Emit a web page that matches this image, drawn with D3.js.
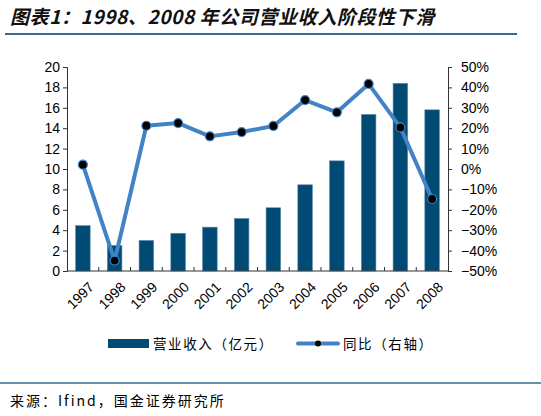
<!DOCTYPE html>
<html>
<head>
<meta charset="utf-8">
<script src="https://cdn.jsdelivr.net/npm/d3@7"></script>
<style>
  body { margin: 0; background: #fff; }
  svg { display: block; font-family: "Liberation Sans", Arial, sans-serif; }
  .cjk { font-family: "Noto Sans CJK SC", sans-serif; }
</style>
</head>
<body>
<div id="chart"></div>
<script>
// Data
const years = ["1997", "1998", "1999", "2000", "2001", "2002", "2003", "2004", "2005", "2006", "2007", "2008"];
const revenue = [4.45, 2.5, 3.0, 3.7, 4.3, 5.15, 6.2, 8.45, 10.8, 15.35, 18.4, 15.8];   // 亿元
const growth = [0.021, -0.449, 0.212, 0.225, 0.16, 0.181, 0.211, 0.338, 0.278, 0.417, 0.204, -0.147];
const leftTicks = [0, 2, 4, 6, 8, 10, 12, 14, 16, 18, 20];
const rightTicks = [-0.5, -0.4, -0.3, -0.2, -0.1, 0, 0.1, 0.2, 0.3, 0.4, 0.5];

const width = 541;
const height = 416;
const marginLeft = 67;
const marginRight = 93;
const marginTop = 67;
const plotBottom = 271;

const barColor = "#004a73";
const lineColor = "#4283c6";

const svg = d3.select("#chart").append("svg")
    .attr("width", width)
    .attr("height", height);

// Title and rules
svg.append("text")
    .attr("class", "cjk")
    .attr("x", 10)
    .attr("y", 24)
    .attr("font-size", 19)
    .attr("font-weight", "bold")
    .attr("font-style", "italic")
    .attr("letter-spacing", 0.6)
    .attr("fill", "#111")
    .text("图表1：1998、2008 年公司营业收入阶段性下滑");

svg.append("line")
    .attr("x1", 5).attr("x2", 517)
    .attr("y1", 34).attr("y2", 34)
    .attr("stroke", "#336e8f").attr("stroke-width", 2);

svg.append("line")
    .attr("x1", 0).attr("x2", 541)
    .attr("y1", 383).attr("y2", 383)
    .attr("stroke", "#336e8f").attr("stroke-width", 1.5);

svg.append("text")
    .attr("class", "cjk")
    .attr("x", 10)
    .attr("y", 406)
    .attr("font-size", 14)
    .attr("letter-spacing", 2)
    .attr("fill", "#000")
    .text("来源：Ifind，国金证券研究所");

// Scales
const x = d3.scaleBand()
    .domain(years)
    .range([marginLeft, width - marginRight])
    .paddingInner(0.54)
    .paddingOuter(0.27);

const xEdge = d3.scaleBand()
    .domain(years)
    .range([marginLeft, width - marginRight]);

const yLeft = d3.scaleLinear()
    .domain([0, 20])
    .range([plotBottom, marginTop]);

const yRight = d3.scaleLinear()
    .domain([-0.5, 0.5])
    .range([plotBottom, marginTop]);

// Bars
svg.append("g")
    .selectAll("rect")
    .data(years)
    .join("rect")
        .attr("x", d => x(d))
        .attr("y", (d, i) => yLeft(revenue[i]))
        .attr("width", x.bandwidth())
        .attr("height", (d, i) => plotBottom - yLeft(revenue[i]))
        .attr("fill", barColor)
        .attr("stroke", "#5d8fb3")
        .attr("stroke-width", 0.6);

// Left axis
svg.append("g")
    .attr("transform", `translate(${marginLeft},0)`)
    .call(d3.axisLeft(yLeft).tickValues(leftTicks).tickSize(4).tickPadding(3))
    .call(g => g.selectAll("text").attr("font-size", 14).attr("fill", "#000"))
    .call(g => g.selectAll("line, path").attr("stroke", "#333"));

// Right axis
svg.append("g")
    .attr("transform", `translate(${width - marginRight},0)`)
    .call(d3.axisRight(yRight).tickValues(rightTicks).tickFormat(d3.format(".0%")).tickSize(4).tickPadding(9))
    .call(g => g.selectAll("text").attr("font-size", 14).attr("fill", "#000"))
    .call(g => g.selectAll("line, path").attr("stroke", "#333"));

// Bottom axis: ticks between categories, pointing inward
const boundaries = years.slice(1).map(d => xEdge(d));
const xAxis = svg.append("g");
xAxis.append("line")
    .attr("x1", marginLeft).attr("x2", width - marginRight)
    .attr("y1", plotBottom).attr("y2", plotBottom)
    .attr("stroke", "#333");
xAxis.selectAll(".btick")
    .data(boundaries)
    .join("line")
        .attr("x1", d => d).attr("x2", d => d)
        .attr("y1", plotBottom).attr("y2", plotBottom - 4)
        .attr("stroke", "#333");
xAxis.selectAll(".ylab")
    .data(years)
    .join("text")
        .attr("transform", d => `translate(${xEdge(d) + xEdge.bandwidth() / 2 + 5},${plotBottom + 10}) rotate(-45)`)
        .attr("text-anchor", "end")
        .attr("dy", "0.7em")
        .attr("font-size", 14)
        .attr("fill", "#000")
        .text(d => d);

// Growth line
const cx = d => x(d) + x.bandwidth() / 2;
const line = d3.line()
    .x(d => cx(d))
    .y((d, i) => yRight(growth[i]));

svg.append("path")
    .datum(years)
    .attr("d", line)
    .attr("fill", "none")
    .attr("stroke", lineColor)
    .attr("stroke-width", 4)
    .attr("stroke-linejoin", "round");

svg.append("g")
    .selectAll("circle")
    .data(years)
    .join("circle")
        .attr("cx", d => cx(d))
        .attr("cy", (d, i) => yRight(growth[i]))
        .attr("r", 4.5)
        .attr("fill", "#000")
        .attr("stroke", lineColor)
        .attr("stroke-width", 1.2);

// Legend
const legend = svg.append("g").attr("class", "cjk");
legend.append("rect")
    .attr("x", 108).attr("y", 339)
    .attr("width", 41).attr("height", 9)
    .attr("fill", barColor);
legend.append("text")
    .attr("x", 153).attr("y", 349)
    .attr("font-size", 13.5)
    .attr("letter-spacing", 1.6)
    .attr("fill", "#000")
    .text("营业收入（亿元）");
legend.append("line")
    .attr("x1", 298).attr("x2", 338)
    .attr("y1", 343.5).attr("y2", 343.5)
    .attr("stroke", lineColor)
    .attr("stroke-width", 4)
    .attr("stroke-linecap", "round");
legend.append("circle")
    .attr("cx", 318).attr("cy", 343.5)
    .attr("r", 3)
    .attr("fill", "#000");
legend.append("text")
    .attr("x", 343).attr("y", 349)
    .attr("font-size", 13.5)
    .attr("letter-spacing", 1.6)
    .attr("fill", "#000")
    .text("同比（右轴）");
</script>
</body>
</html>
